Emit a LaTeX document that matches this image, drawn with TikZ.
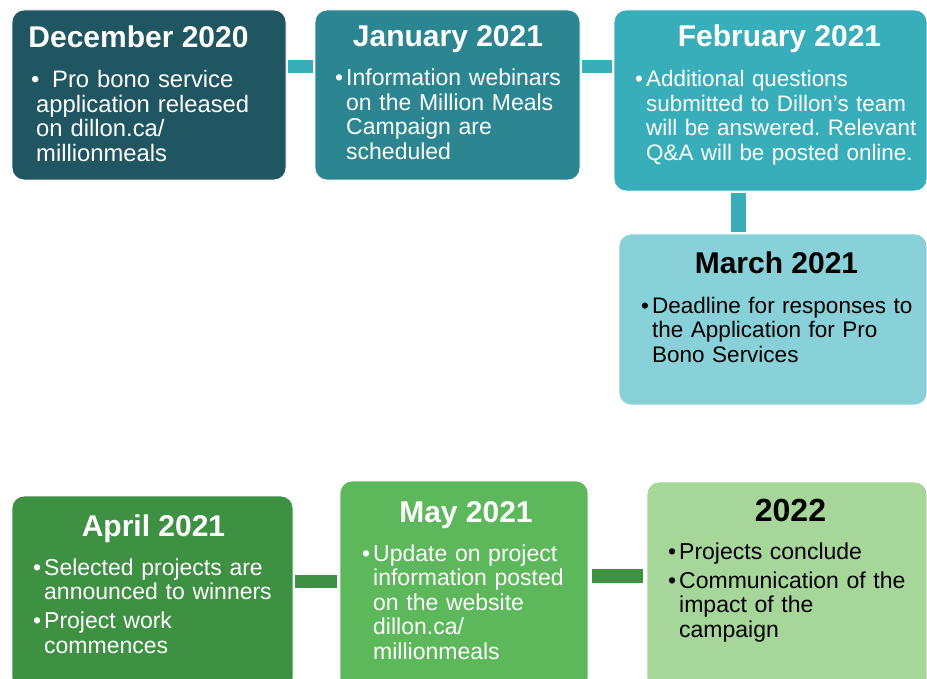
\documentclass[tikz,border=0pt]{standalone}
\usepackage{fontspec}
\setmainfont{Liberation Sans}
\usetikzlibrary{calc}
\frenchspacing

\definecolor{decfill}{HTML}{1F5661}
\definecolor{janfill}{HTML}{2C8691}
\definecolor{febfill}{HTML}{38AEBB}
\definecolor{marfill}{HTML}{89D1D9}
\definecolor{aprfill}{HTML}{3E9142}
\definecolor{mayfill}{HTML}{5DB85B}
\definecolor{endfill}{HTML}{A6D69A}

\tikzset{
  card/.style={rounded corners=12pt, draw=white, line width=0.8pt, inner sep=0pt},
  head/.style={anchor=base, inner sep=0pt, font=\fontsize{30}{32}\selectfont\bfseries},
  body/.style={anchor=base west, inner sep=0pt, text width=290pt, align=left,
    font=\fontsize{23}{24.5}\selectfont},
  link/.style={line width=13pt},
}
% bullet with hanging indent, lines broken by \break
\newcommand{\bul}[2][11pt]{\hangindent=#1\hangafter=1\noindent\makebox[#1][l]{\textbullet}#2\par}

\begin{document}
\begin{tikzpicture}[x=1pt, y=-1pt]
\path[use as bounding box, fill=white] (0,0) rectangle (927,679);

% boxes
\node[card, fill=decfill, minimum width=274pt, minimum height=170pt] (n1) at (149,95) {};
\node[card, fill=janfill, minimum width=265pt, minimum height=170pt] (n2) at (447.5,95) {};
\node[card, fill=febfill, minimum width=313pt, minimum height=181pt] (n3) at (770.5,100.5) {};
\node[card, fill=marfill, minimum width=308pt, minimum height=171pt] (n4) at (773,319.5) {};
\node[card, fill=aprfill, minimum width=281pt, minimum height=194pt] (n5) at (152.5,593) {};
\node[card, fill=mayfill, minimum width=248pt, minimum height=209pt] (n6) at (464,585.5) {};
\node[card, fill=endfill, minimum width=280pt, minimum height=208pt] (n7) at (787,586) {};

% connectors
\draw[link, febfill] ($(n1.north east)+(2,56.5)$) -- ($(n2.north west)+(-2,56.5)$);
\draw[link, febfill] ($(n2.north east)+(2,57)$) -- ($(n3.north west)+(-2,57)$);
\draw[link, febfill, line width=15pt] ($(n3.south)+(-32,2)$) -- ($(n4.north)+(-34.5,-2)$);
\draw[link, aprfill] ($(n5.north east)+(2,85.5)$) -- ($(n6.north west)+(-3,100.5)$);
\draw[link, aprfill, line width=14pt] ($(n6.north east)+(4,95)$) -- ($(n7.north west)+(-4,94)$);

% titles
\node[head, white] (h1) at (138.5,48) {December 2020};
\node[head, white] (h2) at (448,47) {January 2021};
\node[head, white] (h3) at (779.5,47) {February 2021};
\node[head, black] (h4) at (776.5,274) {March 2021};
\node[head, white] (h5) at (153.5,536) {April 2021};
\node[head, white] (h6) at (466,522) {May 2021};
\node[head, black, font=\fontsize{32}{34}\selectfont\bfseries] (h7) at (790.5,521) {2022};

% bullet text
\node[body, white, font=\fontsize{23.8}{24.5}\selectfont] (b1) at (31,88) {\hangindent=5pt\hangafter=1\noindent
  \makebox[21pt][l]{\textbullet}Pro bono service\break application released\break
  on dillon.ca/\break millionmeals\par};
\node[body, white] (b2) at (335,86) {\bul{Information webinars\break on the Million Meals\break
  Campaign are\break scheduled}};
\node[body, white, font=\fontsize{22.4}{24.5}\selectfont] (b3) at (635,87) {\bul{Additional questions\break
  submitted to Dillon's team\break will be answered. Relevant\break Q\&A will be posted online.}};
\node[body, black, font=\fontsize{22.5}{24.5}\selectfont] (b4) at (641,313) {\bul{Deadline for responses to\break
  the Application for Pro\break Bono Services}};
\node[body, white] (b5) at (33,575) {\bul{Selected projects are\break announced to winners}
  \vspace{4.5pt}\bul{Project work\break commences}};
\node[body, white] (b6) at (362,561) {\bul{Update on project\break information posted\break
  on the website\break dillon.ca/\break millionmeals}};
\node[body, black] (b7) at (668,559) {\bul{Projects conclude}
  \vspace{4.5pt}\bul{Communication of the\break impact of the\break campaign}};
\end{tikzpicture}
\end{document}
